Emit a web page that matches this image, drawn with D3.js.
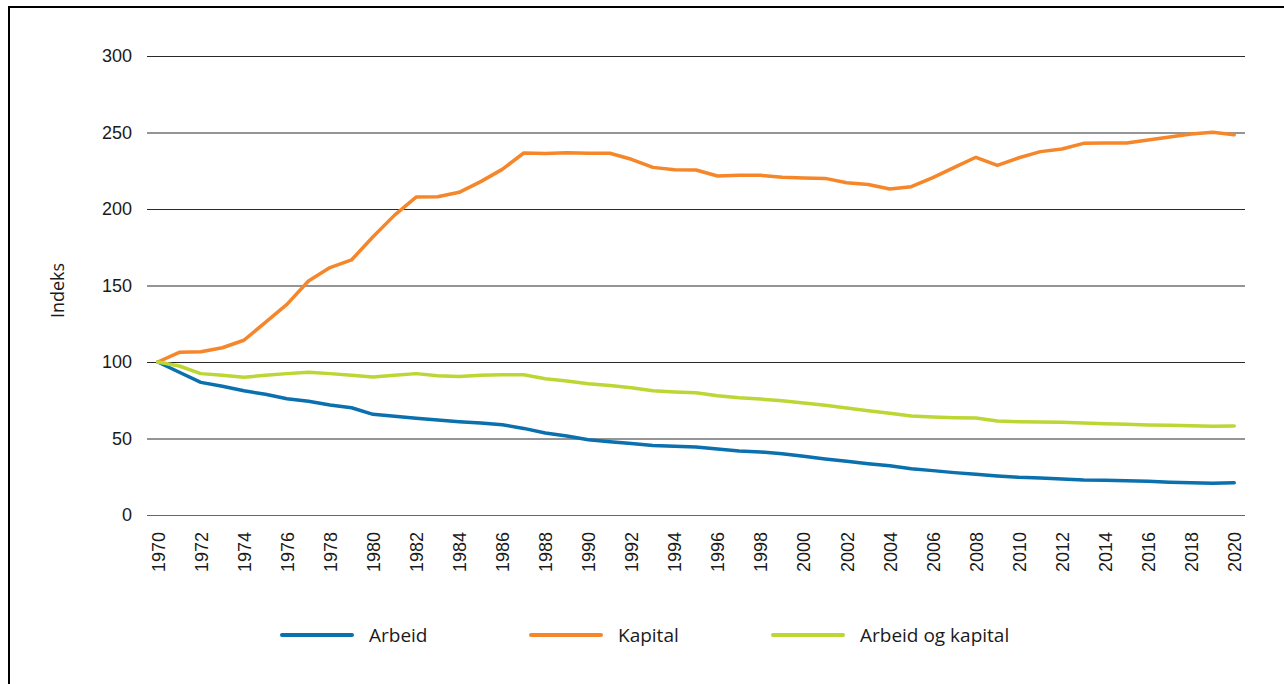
<!DOCTYPE html>
<html>
<head>
<meta charset="utf-8">
<script src="https://cdn.jsdelivr.net/npm/d3@7"></script>
<style>
  body { margin: 0; background: #fff; }
  svg { display: block; font-family: "Open Sans", "Noto Sans", sans-serif; }
  .axis text { fill: #1a1a1a; }
</style>
</head>
<body>
<svg id="chart" width="1284" height="684"></svg>
<script>
var years = d3.range(1970, 2021);

var arbeid = [100, 93.3, 86.7, 84.1, 81.2, 78.9, 76.0, 74.3, 71.9, 70.1,
    65.8, 64.5, 63.2, 62.1, 61.0, 60.1, 59.0, 56.6, 53.6, 51.6,
    49.2, 47.9, 46.8, 45.5, 44.9, 44.4, 43.1, 41.8, 41.2, 40.1,
    38.4, 36.6, 35.1, 33.5, 32.2, 30.3, 29.0, 27.7, 26.6, 25.5,
    24.6, 24.2, 23.5, 22.9, 22.7, 22.4, 22.0, 21.4, 21.1, 20.7, 21.1];

var kapital = [100, 106.3, 106.7, 109.3, 114.2, 125.9, 137.7, 152.9, 161.7, 166.7,
    181.9, 196.0, 207.8, 208.0, 210.9, 217.9, 225.9, 236.6, 236.3, 236.8,
    236.5, 236.4, 232.5, 227.2, 225.7, 225.5, 221.6, 222.0, 222.0, 220.7,
    220.3, 220.0, 217.2, 216.0, 213.1, 214.6, 220.5, 227.2, 233.8, 228.5,
    233.5, 237.5, 239.2, 242.9, 243.1, 243.1, 245.1, 247.1, 249.0, 250.1, 248.6];

var arbeidKapital = [100, 97.4, 92.4, 91.3, 90.0, 91.3, 92.4, 93.3, 92.4, 91.3,
    90.2, 91.3, 92.4, 91.0, 90.6, 91.3, 91.7, 91.7, 89.1, 87.6,
    85.8, 84.7, 83.2, 81.2, 80.4, 79.9, 78.0, 76.7, 75.8, 74.7,
    73.2, 71.7, 69.9, 68.2, 66.5, 64.7, 64.1, 63.6, 63.4, 61.4,
    61.0, 60.8, 60.6, 60.1, 59.7, 59.3, 58.8, 58.6, 58.4, 58.0, 58.2];

var yTicks = [0, 50, 100, 150, 200, 250, 300];
var seriesNames = ["Arbeid", "Kapital", "Arbeid og kapital"];
var seriesColors = ["#0a70ae", "#f5862a", "#bcd634"];

var series = [arbeid, kapital, arbeidKapital].map(function (vals, i) {
    return {
        name: seriesNames[i],
        color: seriesColors[i],
        values: vals.map(function (v, j) { return {year: years[j], value: v}; })
    };
});

var svg = d3.select("#chart");

// frame
svg.append("rect")
    .attr("x", 9).attr("y", 7)
    .attr("width", 1400).attr("height", 800)
    .attr("fill", "none")
    .attr("stroke", "#000")
    .attr("stroke-width", 2);

var plotLeft = 147, plotRight = 1245, plotTop = 56, plotBottom = 515;

var x = d3.scalePoint().domain(years).range([plotLeft, plotRight]).padding(0.5);
var y = d3.scaleLinear().domain([0, 300]).range([plotBottom, plotTop]);

// y axis + gridlines
var gy = svg.append("g")
    .attr("class", "axis axis--y")
    .attr("transform", "translate(" + plotLeft + ",0)")
    .call(d3.axisLeft(y).tickValues(yTicks).tickSize(-(plotRight - plotLeft)).tickPadding(15));
gy.select(".domain").remove();
gy.selectAll(".tick line")
    .attr("stroke", function (d) { return d === 0 ? "#666" : "#2a2a2a"; })
    .attr("stroke-width", 1);
gy.selectAll(".tick text").attr("font-size", 18);

// x axis
var gx = svg.append("g")
    .attr("class", "axis axis--x")
    .attr("transform", "translate(0," + plotBottom + ")")
    .call(d3.axisBottom(x).tickValues(years.filter(function (d) { return d % 2 === 0; })).tickSize(0));
gx.select(".domain").remove();
gx.selectAll(".tick text")
    .attr("font-size", 18)
    .attr("transform", "rotate(-90)")
    .attr("text-anchor", "end")
    .attr("x", -17)
    .attr("y", 0)
    .attr("dy", "0.35em");

svg.append("text")
    .attr("transform", "translate(64," + ((plotTop + plotBottom) / 2 + 5) + ") rotate(-90)")
    .attr("text-anchor", "middle")
    .attr("font-size", 18)
    .attr("fill", "#1a1a1a")
    .text("Indeks");

var line = d3.line()
    .x(function (d) { return x(d.year); })
    .y(function (d) { return y(d.value); });

svg.selectAll(".series")
    .data(series)
    .enter().append("path")
    .attr("class", "series")
    .attr("fill", "none")
    .attr("stroke", function (d) { return d.color; })
    .attr("stroke-width", 3.5)
    .attr("stroke-linejoin", "round")
    .attr("stroke-linecap", "round")
    .attr("d", function (d) { return line(d.values); });

// legend
var legendX = [282, 531, 773];
var lg = svg.selectAll(".legend")
    .data(series)
    .enter().append("g")
    .attr("class", "legend")
    .attr("transform", function (d, i) { return "translate(" + legendX[i] + ",635)"; });
lg.append("line")
    .attr("x1", 0).attr("x2", 70)
    .attr("stroke", function (d) { return d.color; })
    .attr("stroke-width", 4)
    .attr("stroke-linecap", "round");
lg.append("text")
    .attr("x", 87)
    .attr("dy", "0.35em")
    .attr("font-size", 19)
    .attr("fill", "#1a1a1a")
    .text(function (d) { return d.name; });
</script>
</body>
</html>
